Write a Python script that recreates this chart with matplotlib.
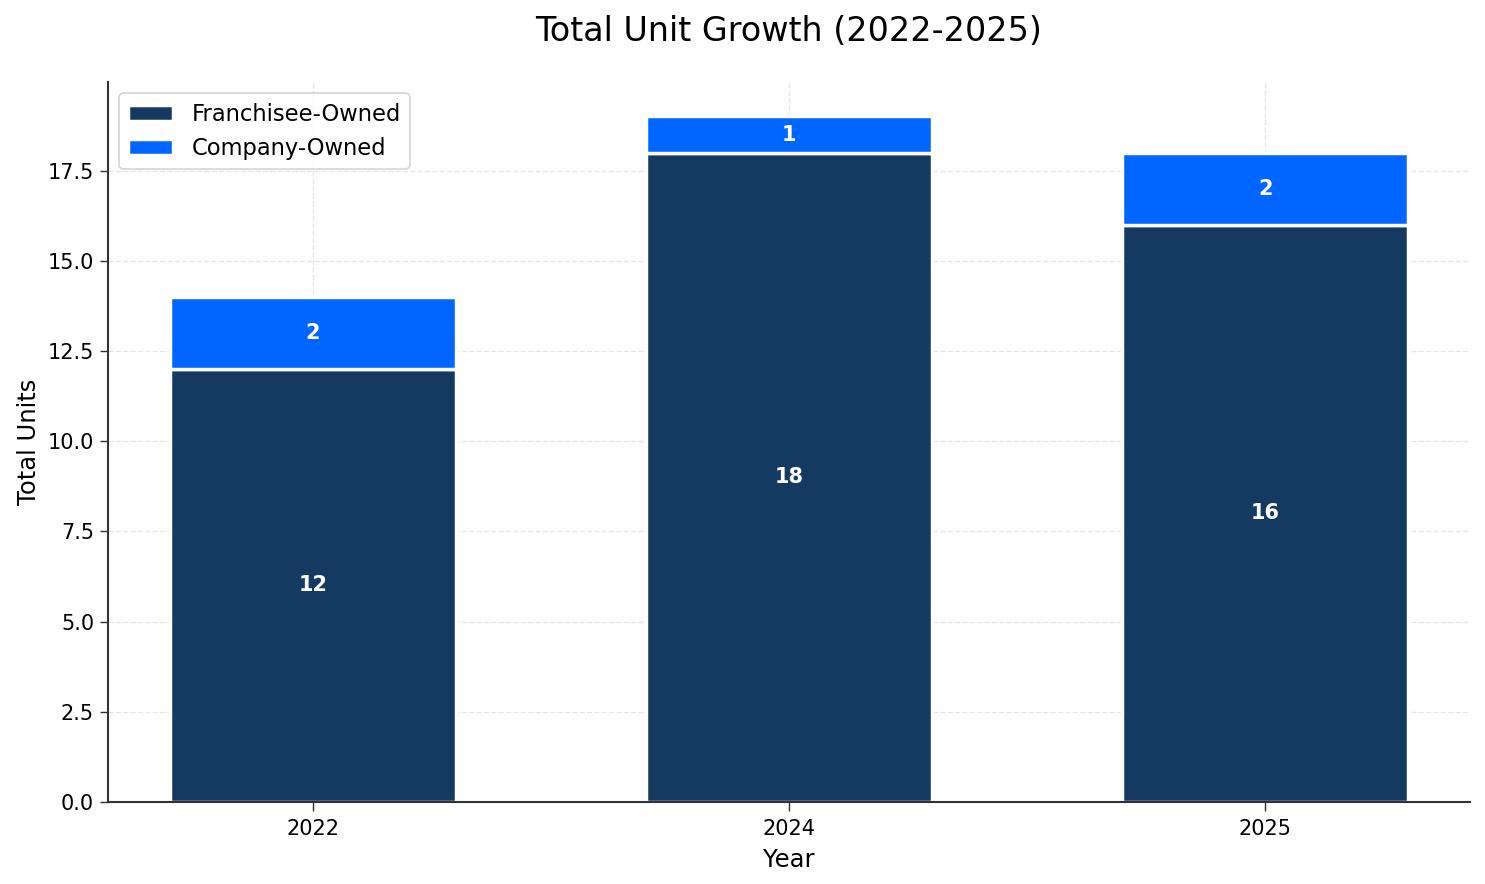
import matplotlib
matplotlib.use("Agg")
import matplotlib.pyplot as plt
import numpy as np

years = ["2022", "2024", "2025"]
franchisee = [12, 18, 16]
company = [2, 1, 2]

DPI = 125
fig, ax = plt.subplots(figsize=(1485 / DPI, 884 / DPI), dpi=DPI)
x = np.arange(len(years))
w = 0.6
ax.bar(x, franchisee, w, color="#153a61", edgecolor="white", linewidth=2, label="Franchisee-Owned", zorder=2)
ax.bar(x, company, w, bottom=franchisee, color="#0066ff", edgecolor="white", linewidth=2, label="Company-Owned", zorder=2)

for i in range(len(years)):
    ax.text(x[i], franchisee[i] / 2, str(franchisee[i]), ha="center", va="center",
            color="white", fontsize=12, fontweight="bold", zorder=3)
    ax.text(x[i], franchisee[i] + company[i] / 2, str(company[i]), ha="center", va="center",
            color="white", fontsize=12, fontweight="bold", zorder=3)

ax.set_xticks(x)
ax.set_xticklabels(years, fontsize=12)
ax.tick_params(axis="x", labelsize=12, length=5, pad=5, color="#333333")
ax.tick_params(axis="y", labelsize=12, length=4.5, pad=3.5, color="#333333")
ax.set_xlabel("Year", fontsize=14, labelpad=5)
ax.set_ylabel("Total Units", fontsize=14, labelpad=4)
ax.set_title("Total Unit Growth (2022-2025)", fontsize=19.2, pad=24)
ax.grid(True, linestyle="--", alpha=0.3, zorder=0)
ax.spines["top"].set_visible(False)
ax.spines["right"].set_visible(False)
for s in ("left", "bottom"):
    ax.spines[s].set_color("#333333")
    ax.spines[s].set_linewidth(1.2)
ax.legend(loc="upper left", fontsize=13)
fig.subplots_adjust(left=0.0727, right=0.99, top=0.907, bottom=0.0928)
fig.savefig("out.png", dpi=DPI)
